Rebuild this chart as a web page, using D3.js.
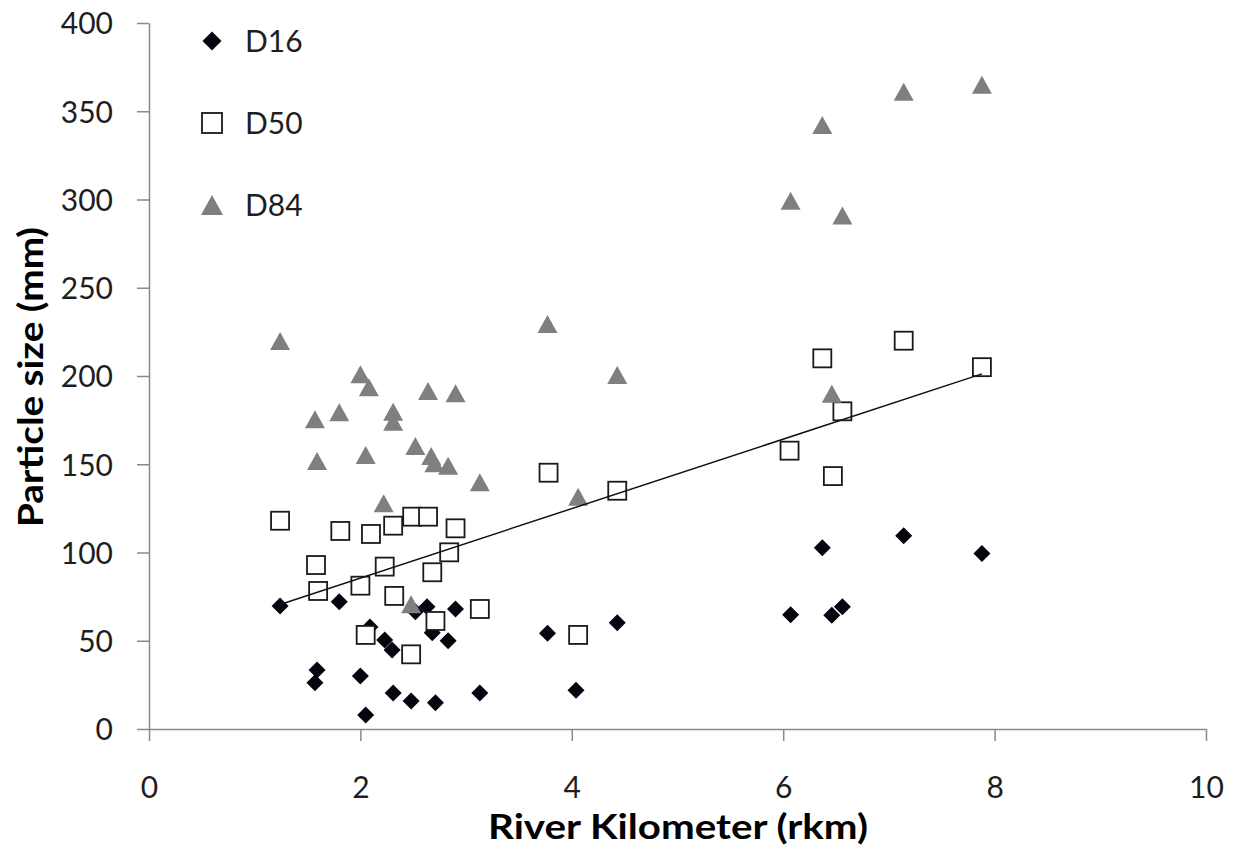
<!DOCTYPE html>
<html>
<head>
<meta charset="utf-8">
<script src="https://cdn.jsdelivr.net/npm/d3@7"></script>
<style>
  html, body { margin: 0; padding: 0; background: #fff; }
  svg { display: block; }
  text { font-family: Lato, "Open Sans", sans-serif; }
</style>
</head>
<body>
<svg id="chart" width="1237" height="861"></svg>
<script>
// Grain size percentiles along the river (rkm = river kilometer, size in mm)
const d16Rkm  = [1.24, 1.57, 1.59, 1.80, 2.00, 2.05, 2.09, 2.23, 2.30, 2.31, 2.48, 2.52, 2.63, 2.68, 2.71, 2.83, 2.90, 3.13, 3.77, 4.04, 4.43, 6.07, 6.37, 6.46, 6.56, 7.14, 7.88];
const d16Size = [69.7, 26.2, 33.4, 72.1, 30.0, 7.9, 57.8, 50.4, 44.8, 20.4, 15.9, 66.5, 69.3, 54.6, 14.9, 50.0, 68.0, 20.4, 54.2, 22.0, 60.2, 64.8, 102.7, 64.4, 69.3, 109.5, 99.5];

const d50Rkm  = [1.24, 1.58, 1.60, 1.81, 2.00, 2.05, 2.10, 2.23, 2.31, 2.32, 2.48, 2.49, 2.64, 2.68, 2.71, 2.84, 2.90, 3.13, 3.78, 4.06, 4.43, 6.06, 6.37, 6.47, 6.56, 7.14, 7.88];
const d50Size = [118.0, 92.9, 78.2, 112.2, 81.2, 53.3, 110.5, 92.0, 115.2, 75.4, 42.3, 120.3, 120.3, 88.8, 61.2, 100.1, 113.7, 68.0, 145.2, 53.3, 135.0, 157.7, 210.0, 143.3, 180.0, 220.0, 205.0];

const d84Rkm  = [1.24, 1.57, 1.59, 1.80, 2.00, 2.05, 2.08, 2.22, 2.31, 2.31, 2.48, 2.52, 2.64, 2.67, 2.70, 2.83, 2.90, 3.13, 3.77, 4.06, 4.43, 6.07, 6.37, 6.46, 6.56, 7.14, 7.88];
const d84Size = [219.8, 175.5, 151.8, 179.4, 201.0, 155.2, 193.6, 127.9, 179.8, 174.1, 70.7, 160.3, 191.5, 154.7, 150.5, 149.2, 190.2, 139.8, 229.5, 131.6, 200.6, 299.3, 342.2, 190.0, 291.0, 361.0, 365.0];

const seriesNames = ["D16", "D50", "D84"];
const xTicks = [0, 2, 4, 6, 8, 10];
const yTicks = [0, 50, 100, 150, 200, 250, 300, 350, 400];
const xTitle = "River Kilometer (rkm)";
const yTitle = "Particle size (mm)";

const svg = d3.select("#chart");

const x = d3.scaleLinear().domain([0, 10]).range([149, 1206]);
const y = d3.scaleLinear().domain([0, 400]).range([729, 23]);

const axisColor = "#8a8a8a";
const textColor = "#1e1e1e";

// Axes
const gx = svg.append("g")
  .attr("transform", `translate(0,${y(0)})`)
  .call(d3.axisBottom(x).tickValues(xTicks).tickSize(12).tickSizeOuter(0).tickPadding(36).tickFormat(d3.format("d")));
const gy = svg.append("g")
  .attr("transform", `translate(${x(0)},0)`)
  .call(d3.axisLeft(y).tickValues(yTicks).tickSize(12).tickSizeOuter(0).tickPadding(24).tickFormat(d3.format("d")));

[gx, gy].forEach(g => {
  g.selectAll("path.domain").attr("stroke", axisColor).attr("stroke-width", 1.5);
  g.selectAll(".tick line").attr("stroke", axisColor).attr("stroke-width", 1.5);
  g.selectAll(".tick text")
    .attr("fill", textColor)
    .style("font-family", "Lato, sans-serif")
    .style("font-size", "30px");
});
gy.selectAll(".tick text").attr("dy", "0.36em");

// Axis titles
svg.append("text")
  .attr("x", 678).attr("y", 839)
  .attr("text-anchor", "middle")
  .attr("fill", "#000")
  .attr("textLength", 380).attr("lengthAdjust", "spacingAndGlyphs")
  .style("font-size", "34px").style("font-weight", "bold")
  .text(xTitle);
svg.append("text")
  .attr("transform", `translate(43,377) rotate(-90)`)
  .attr("text-anchor", "middle")
  .attr("fill", "#000")
  .attr("textLength", 300).attr("lengthAdjust", "spacingAndGlyphs")
  .style("font-size", "35px").style("font-weight", "bold")
  .text(yTitle);

// Marker shapes
const diamondPath = r => `M0,${-r}L${r},0L0,${r}L${-r},0Z`;
const trianglePath = (w, h) => `M0,${-h / 2}L${w / 2},${h / 2}L${-w / 2},${h / 2}Z`;

function drawDiamonds(g, xs, ys, r) {
  g.selectAll("path").data(d3.zip(xs, ys)).join("path")
    .attr("transform", d => `translate(${x(d[0])},${y(d[1])})`)
    .attr("d", diamondPath(r))
    .attr("fill", "#050510");
}
function drawSquares(g, xs, ys, s) {
  g.selectAll("rect").data(d3.zip(xs, ys)).join("rect")
    .attr("x", d => x(d[0]) - s / 2)
    .attr("y", d => y(d[1]) - s / 2)
    .attr("width", s).attr("height", s)
    .attr("fill", "#fff")
    .attr("stroke", "#1a1a1a")
    .attr("stroke-width", 1.8);
}
function drawTriangles(g, xs, ys, w, h) {
  g.selectAll("path").data(d3.zip(xs, ys)).join("path")
    .attr("transform", d => `translate(${x(d[0])},${y(d[1])})`)
    .attr("d", trianglePath(w, h))
    .attr("fill", "#7f7f7f");
}

drawDiamonds(svg.append("g"), d16Rkm, d16Size, 8.5);
drawSquares(svg.append("g"), d50Rkm, d50Size, 18);
drawTriangles(svg.append("g"), d84Rkm, d84Size, 20, 18);

// Linear trend of D50 over the sampled reach
const mx = d3.mean(d50Rkm), my = d3.mean(d50Size);
const slope = d3.sum(d50Rkm, (v, i) => (v - mx) * (d50Size[i] - my)) /
              d3.sum(d50Rkm, v => (v - mx) * (v - mx));
const intercept = my - slope * mx;
const [xMin, xMax] = d3.extent(d50Rkm);
svg.append("line")
  .attr("x1", x(xMin)).attr("y1", y(intercept + slope * xMin))
  .attr("x2", x(xMax)).attr("y2", y(intercept + slope * xMax))
  .attr("stroke", "#111").attr("stroke-width", 1.5);

// Legend
const legend = svg.append("g");
const legendRows = [
  { name: seriesNames[0], cy: 41 },
  { name: seriesNames[1], cy: 123 },
  { name: seriesNames[2], cy: 205 }
];
const lx = 212;
legend.append("path").attr("transform", `translate(${lx},${legendRows[0].cy})`)
  .attr("d", diamondPath(9.5)).attr("fill", "#050510");
legend.append("rect").attr("x", lx - 10).attr("y", legendRows[1].cy - 10)
  .attr("width", 20).attr("height", 20)
  .attr("fill", "#fff").attr("stroke", "#1a1a1a").attr("stroke-width", 1.8);
legend.append("path").attr("transform", `translate(${lx},${legendRows[2].cy})`)
  .attr("d", trianglePath(22, 20)).attr("fill", "#7f7f7f");
legend.selectAll("text").data(legendRows).join("text")
  .attr("x", 245).attr("y", d => d.cy).attr("dy", "0.36em")
  .attr("fill", textColor)
  .style("font-size", "30px")
  .text(d => d.name);
</script>
</body>
</html>
